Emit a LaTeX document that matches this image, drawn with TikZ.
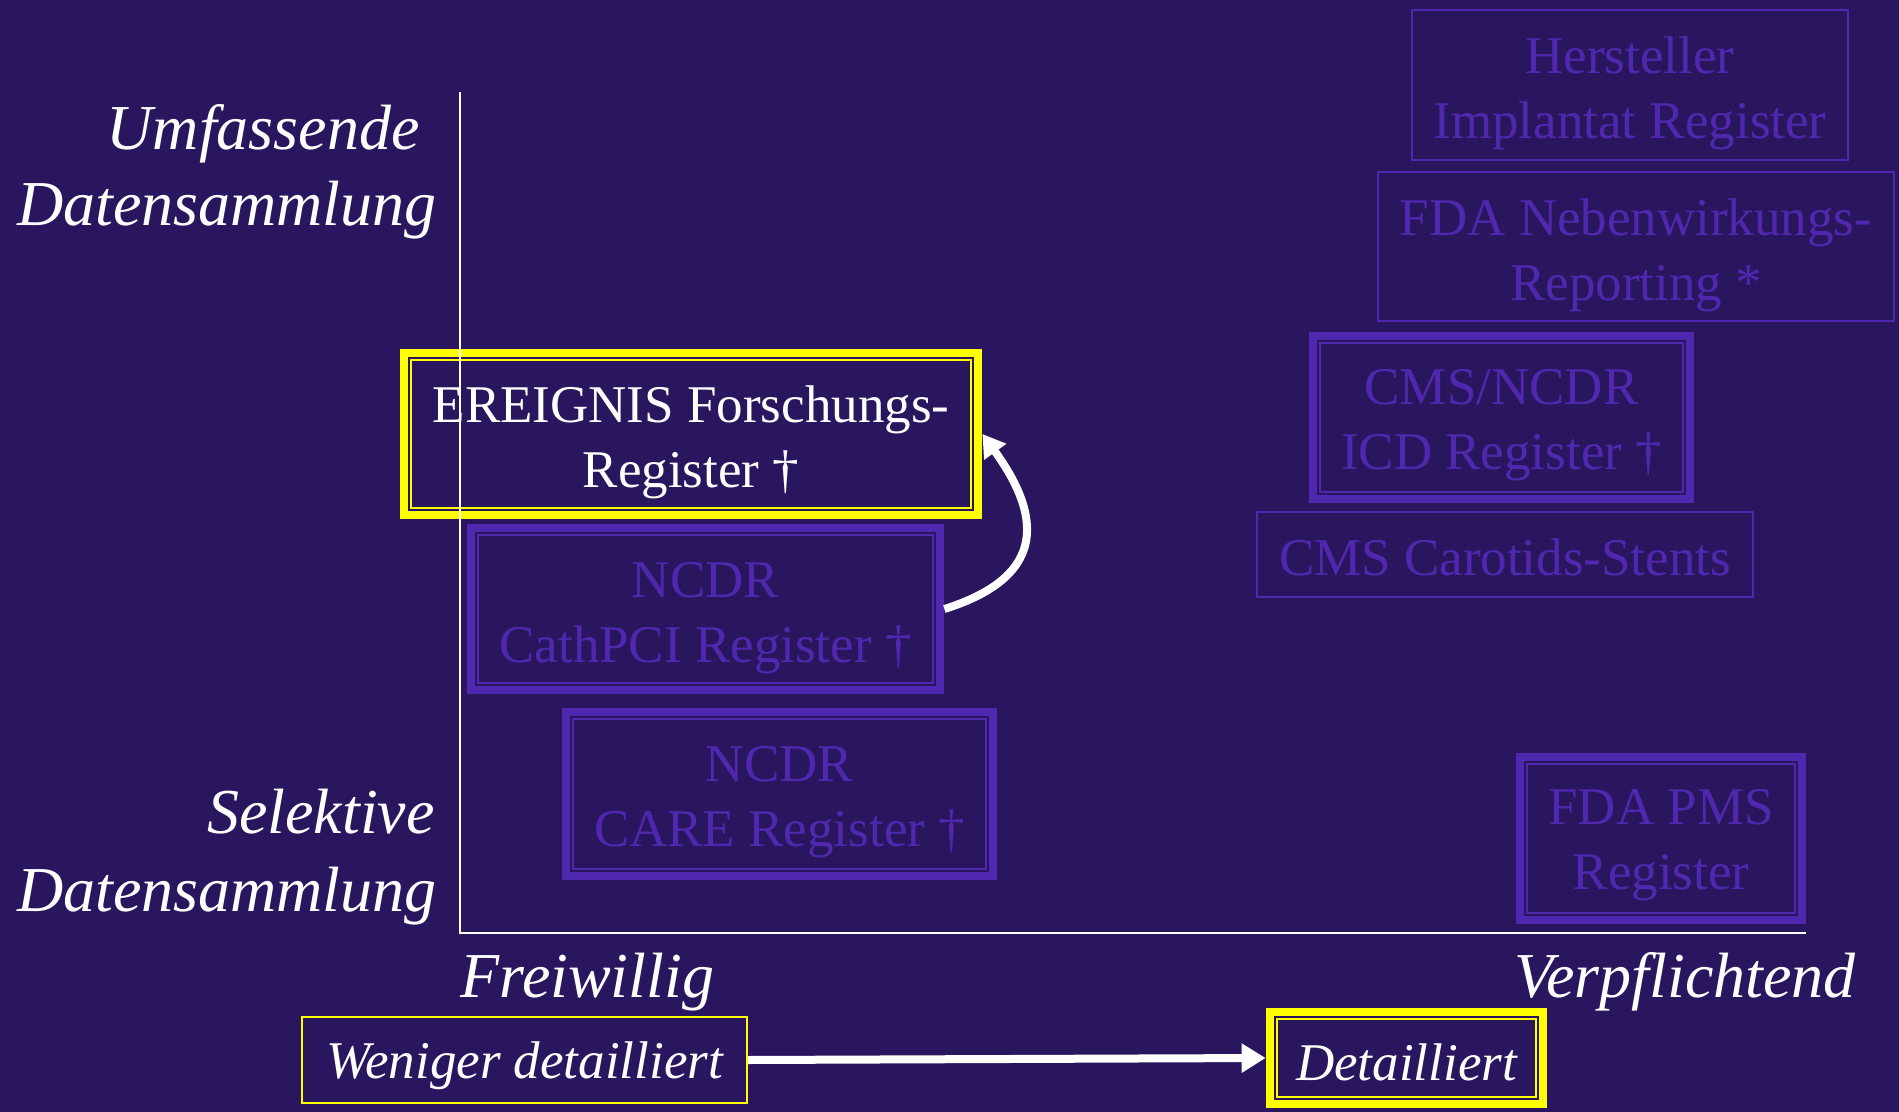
\documentclass[tikz,border=0pt]{standalone}
\usepackage{fontspec}
\setmainfont{Liberation Serif}
\usetikzlibrary{arrows.meta}
\definecolor{bg}{RGB}{42,22,94}
\definecolor{vio}{RGB}{80,40,176}
\definecolor{yel}{RGB}{255,255,0}
\tikzset{
  frame/.style={rectangle, inner sep=0pt},
  boxtext/.style={inner sep=0pt, font=\fontsize{26.5}{32.5}\selectfont, align=center, text=vio},
  thinframe/.style={draw=#1, line width=1pt},
  axislabel/.style={inner sep=0pt, font=\fontsize{32}{38}\selectfont\itshape, text=white},
  arrowline/.style={draw=white, line width=4pt},
  axisline/.style={draw=white, line width=1pt},
}
\newcommand\ttframe[2]{%
  \draw[#2, line width=4pt] ([shift={(4,4)}]#1.north west) rectangle ([shift={(-4,-4)}]#1.south east);
  \draw[#2, line width=1.25pt] ([shift={(11.25,11.25)}]#1.north west) rectangle ([shift={(-11.25,-11.25)}]#1.south east);
}
\begin{document}
\begin{tikzpicture}[x=0.5pt,y=-0.5pt]
\fill[bg] (0,0) rectangle (1899,1112);
\useasboundingbox (0,0) rectangle (1899,1112);

% right column boxes
\node[frame, thinframe=vio, minimum width=218pt, minimum height=75pt,
  label={[boxtext, yshift=-4pt]center:{Hersteller\\Implantat Register}}] (hers) at (1630,85) {};
\node[frame, thinframe=vio, minimum width=258pt, minimum height=74.5pt,
  label={[boxtext, yshift=-4.25pt]center:{FDA Nebenwirkungs-\\Reporting *}}] (fda) at (1636,246.5) {};
\node[frame, minimum width=192.5pt, minimum height=85.5pt,
  label={[boxtext, yshift=-4pt]center:{CMS/NCDR\\ICD Register †}}] (cms) at (1501.5,417.5) {};
\node[frame, thinframe=vio, minimum width=248pt, minimum height=42.5pt,
  label={[boxtext, yshift=-1.5pt]center:{CMS Carotids-Stents}}] (carot) at (1505,554.5) {};
\node[frame, minimum width=145pt, minimum height=85.5pt,
  label={[boxtext, yshift=-3.5pt]center:{FDA PMS\\Register}}] (pms) at (1661,838.5) {};

% left column boxes
\node[frame, minimum width=291pt, minimum height=85pt,
  label={[boxtext, text=white, yshift=-4.25pt]center:{EREIGNIS Forschungs-\\Register †}}] (ereig) at (691,434) {};
\node[frame, minimum width=238.5pt, minimum height=85pt,
  label={[boxtext, yshift=-4.5pt]center:{NCDR\\CathPCI Register †}}] (cath) at (705.5,609) {};
\node[frame, minimum width=217.5pt, minimum height=86pt,
  label={[boxtext, yshift=-4pt]center:{NCDR\\CARE Register †}}] (care) at (779.5,794) {};

% bottom boxes
\node[frame, thinframe=yel, minimum width=222.5pt, minimum height=43pt,
  label={[boxtext, text=white, font=\fontsize{26.5}{32.5}\selectfont\itshape, yshift=-2.75pt]center:{Weniger detailliert}}] (wen) at (524.5,1060) {};
\node[frame, minimum width=140.5pt, minimum height=50pt,
  label={[boxtext, text=white, font=\fontsize{26.5}{32.5}\selectfont\itshape, yshift=-2pt]center:{Detailliert}}] (det) at (1406.5,1058) {};

\ttframe{cms}{vio}
\ttframe{pms}{vio}
\ttframe{cath}{vio}
\ttframe{care}{vio}
\ttframe{ereig}{yel}
\ttframe{det}{yel}

% axis labels
\node[axislabel, anchor=base east] (umf) at (420,150) {Umfassende};
\node[axislabel, anchor=base east] (dat1) at (437,226) {Datensammlung};
\node[axislabel, anchor=base east] (sel) at (435,833) {Selektive};
\node[axislabel, anchor=base east] (dat2) at (437,911) {Datensammlung};
\node[axislabel, anchor=base west] (frei) at (460,997) {Freiwillig};
\node[axislabel, anchor=base west] (verp) at (1514,997) {Verpflichtend};

% arrows
\draw[arrowline, -{Triangle[length=12pt,width=14pt]}] (wen.east) -- (det.west);
\draw[arrowline, -{Triangle[length=11pt,width=13pt]}] (cath.east) .. controls +(95,-30) and +(65,90) .. (ereig.east);

% axes
\coordinate (ytop) at (460,92);
\coordinate (orig) at (460,933);
\coordinate (xend) at (1806,933);
\draw[axisline] (ytop) -- (orig) -- (xend);
\end{tikzpicture}
\end{document}
